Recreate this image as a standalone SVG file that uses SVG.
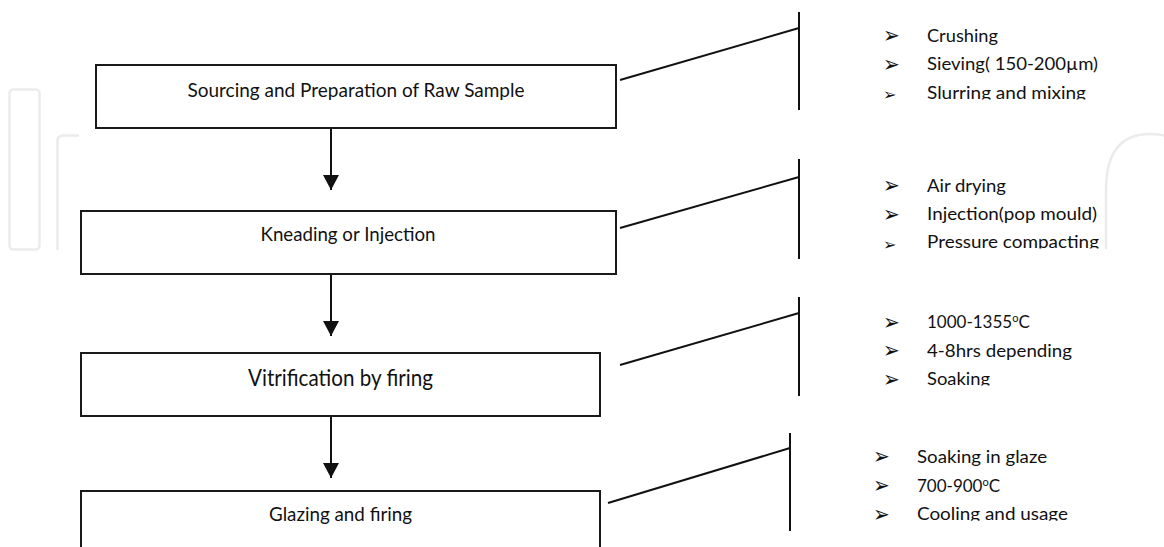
<svg xmlns="http://www.w3.org/2000/svg" width="1164" height="547" viewBox="0 0 1164 547">
  <style>
    .box { fill: #ffffff; stroke: #1a1a1a; stroke-width: 2; }
    .lbl { font-family: Lato, "Open Sans", "Liberation Sans", sans-serif; fill: #111; text-anchor: middle; }
    .item { font-family: Lato, "Open Sans", "Liberation Sans", sans-serif; font-size: 17px; fill: #111; }
    .bul { font-family: "DejaVu Sans", sans-serif; font-size: 20px; fill: #111; }
    .bul.sm { font-size: 16px; }
    .wire { stroke: #111; stroke-width: 2; fill: none; }
    .wm { stroke: #ebebeb; stroke-width: 2.5; fill: none; }
  </style>
  <defs>
    <marker id="ah" markerUnits="userSpaceOnUse" markerWidth="15" markerHeight="16" refX="15" refY="8" orient="auto">
      <path d="M0,0 L15,8 L0,16 z" fill="#111"/>
    </marker>
    <clipPath id="c1"><rect x="900" y="0" width="260" height="99.5"/></clipPath>
    <clipPath id="c2"><rect x="900" y="150" width="260" height="98.5"/></clipPath>
    <clipPath id="c3"><rect x="900" y="290" width="260" height="95.5"/></clipPath>
    <clipPath id="c4"><rect x="900" y="430" width="260" height="90.8"/></clipPath>
  </defs>
  <rect width="1164" height="547" fill="#ffffff"/>

  <g id="watermark">
    <rect class="wm" x="9.5" y="89.5" width="30" height="160" rx="4"/>
    <path class="wm" d="M57.5,250 V141 Q57.5,135.5 63,135.5 H79"/>
    <path class="wm" d="M1106,249 V190 Q1106,134 1150,134 Q1164,134 1170,138"/>
  </g>

  <g id="connectors">
    <line class="wire" x1="331" y1="129" x2="331" y2="190" marker-end="url(#ah)"/>
    <line class="wire" x1="331" y1="275" x2="331" y2="336" marker-end="url(#ah)"/>
    <line class="wire" x1="331" y1="417" x2="331" y2="478" marker-end="url(#ah)"/>
    <line class="wire" x1="620" y1="80" x2="799" y2="28"/>
    <line class="wire" x1="799" y1="12" x2="799" y2="110"/>
    <line class="wire" x1="620" y1="228" x2="799" y2="177"/>
    <line class="wire" x1="799" y1="159" x2="799" y2="259"/>
    <line class="wire" x1="620" y1="365" x2="799" y2="313"/>
    <line class="wire" x1="799" y1="297" x2="799" y2="396"/>
    <line class="wire" x1="608" y1="503" x2="790" y2="448"/>
    <line class="wire" x1="790" y1="433" x2="790" y2="531"/>
  </g>

  <g id="node-sourcing">
    <rect class="box" x="96" y="65" width="520" height="63"/>
    <text class="lbl" x="356" y="96.5" font-size="19" textLength="337" lengthAdjust="spacingAndGlyphs">Sourcing and Preparation of Raw Sample</text>
  </g>
  <g id="node-kneading">
    <rect class="box" x="81" y="211" width="535" height="63"/>
    <text class="lbl" x="348" y="241" font-size="19" textLength="175" lengthAdjust="spacingAndGlyphs">Kneading or Injection</text>
  </g>
  <g id="node-vitrification">
    <rect class="box" x="81" y="353" width="519" height="63"/>
    <text class="lbl" x="340.5" y="386" font-size="22.5" textLength="185" lengthAdjust="spacingAndGlyphs">Vitrification by firing</text>
  </g>
  <g id="node-glazing">
    <rect class="box" x="81" y="491" width="519" height="80"/>
    <text class="lbl" x="340.5" y="521" font-size="19" textLength="143" lengthAdjust="spacingAndGlyphs">Glazing and firing</text>
  </g>

  <g id="notes-sourcing">
    <text class="bul" transform="translate(883,43.4) scale(1,1.15)">➢</text>
    <text class="item" x="927" y="42" textLength="71" lengthAdjust="spacingAndGlyphs">Crushing</text>
    <text class="bul" transform="translate(883,71.7) scale(1,1.15)">➢</text>
    <text class="item" x="927" y="70" textLength="171" lengthAdjust="spacingAndGlyphs">Sieving( 150-200µm)</text>
    <text class="bul sm" x="883" y="99.5">➢</text>
    <text class="item" x="927" y="98.5" textLength="159" lengthAdjust="spacingAndGlyphs" clip-path="url(#c1)">Slurring and mixing</text>
  </g>
  <g id="notes-kneading">
    <text class="bul" transform="translate(883,193.4) scale(1,1.15)">➢</text>
    <text class="item" x="927" y="192" textLength="79" lengthAdjust="spacingAndGlyphs">Air drying</text>
    <text class="bul" transform="translate(883,221.7) scale(1,1.15)">➢</text>
    <text class="item" x="927" y="220" textLength="170" lengthAdjust="spacingAndGlyphs">Injection(pop mould)</text>
    <text class="bul sm" x="883" y="249.5">➢</text>
    <text class="item" x="927" y="248" textLength="172" lengthAdjust="spacingAndGlyphs" clip-path="url(#c2)">Pressure compacting</text>
  </g>
  <g id="notes-vitrification">
    <text class="bul" transform="translate(883,329.9) scale(1,1.15)">➢</text>
    <text class="item" x="927" y="328">1000-1355<tspan font-size="11" dy="-6.5">o</tspan><tspan dy="6.5">C</tspan></text>
    <text class="bul" transform="translate(883,358.4) scale(1,1.15)">➢</text>
    <text class="item" x="927" y="357" textLength="145" lengthAdjust="spacingAndGlyphs">4-8hrs depending</text>
    <text class="bul" transform="translate(883,386.7) scale(1,1.15)">➢</text>
    <text class="item" x="927" y="385" textLength="63" lengthAdjust="spacingAndGlyphs" clip-path="url(#c3)">Soaking</text>
  </g>
  <g id="notes-glazing">
    <text class="bul" transform="translate(873,464.4) scale(1,1.15)">➢</text>
    <text class="item" x="917" y="463" textLength="130" lengthAdjust="spacingAndGlyphs">Soaking in glaze</text>
    <text class="bul" transform="translate(873,493.2) scale(1,1.15)">➢</text>
    <text class="item" x="917" y="492">700-900<tspan font-size="11" dy="-6.5">o</tspan><tspan dy="6.5">C</tspan></text>
    <text class="bul" transform="translate(873,521.7) scale(1,1.15)">➢</text>
    <text class="item" x="917" y="520" textLength="151" lengthAdjust="spacingAndGlyphs" clip-path="url(#c4)">Cooling and usage</text>
  </g>
</svg>
